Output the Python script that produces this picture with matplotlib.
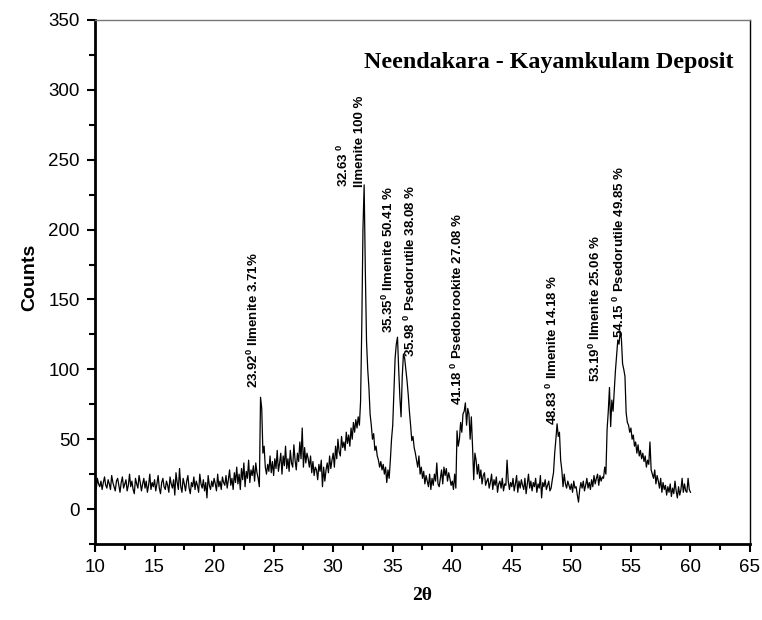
import numpy as np
import matplotlib
matplotlib.use("Agg")
import matplotlib.pyplot as plt

plt.rcParams['mathtext.fontset'] = 'custom'
plt.rcParams['mathtext.rm'] = 'Liberation Sans:bold'
plt.rcParams['mathtext.bf'] = 'Liberation Sans:bold'
plt.rcParams['mathtext.it'] = 'Liberation Sans:bold'

# 2-theta sampling: 10.0 .. 60.0 in steps of 0.1
two_theta_start = 10.0
two_theta_stop = 60.0
counts = [
    30, 14, 22, 18, 16, 20, 14, 19, 23, 17,
    15, 21, 18, 14, 24, 19, 16, 13, 20, 22,
    17, 12, 19, 23, 15, 18, 21, 13, 17, 25,
    16, 20, 14, 11, 22, 18, 15, 24, 19, 13,
    18, 22, 15, 20, 12, 17, 25, 14, 19, 16,
    21, 13, 18, 24, 15, 11, 19, 22, 16, 14,
    20, 17, 12, 23, 18, 15, 21, 10, 26, 19,
    14, 29, 16, 12, 22, 18, 13, 20, 24, 15,
    11, 19, 16, 23, 14, 20, 17, 12, 25, 18,
    15, 21, 13, 19, 8, 24, 17, 14, 20, 16,
    22, 18, 13, 25, 16, 20, 14, 23, 19, 17,
    24, 15, 21, 28, 17, 22, 14, 26, 19, 30,
    18, 25, 14, 29, 21, 33, 16, 27, 22, 35,
    19, 28, 24, 31, 20, 33, 26, 22, 16, 80,
    72, 40, 45, 30, 25, 32, 27, 38, 26, 34,
    24, 36, 29, 42, 27, 33, 40, 25, 38, 31,
    45, 29, 36, 27, 42, 33, 30, 46, 35, 28,
    40, 34, 48, 36, 58, 30, 44, 33, 40, 36,
    30, 38, 26, 34, 24, 30, 28, 21, 32, 27,
    35, 16, 30, 20, 28, 33, 26, 38, 29, 35,
    40, 30, 45, 36, 50, 41, 38, 52, 44, 48,
    42, 55, 47, 53, 45, 58, 50, 62, 55, 64,
    58, 66, 60, 77, 130, 200, 232, 170, 120, 100,
    87, 68, 60, 50, 54, 42, 45, 38, 35, 30,
    34, 28, 32, 25, 30, 19, 28, 22, 35, 50,
    60, 85, 108, 118, 123, 100, 80, 66, 95, 111,
    108, 100, 92, 82, 70, 60, 49, 52, 44, 40,
    35, 30, 38, 25, 30, 22, 27, 18, 24, 20,
    16, 25, 14, 22, 17, 25, 20, 33, 18, 16,
    22, 28, 18, 30, 24, 29, 20, 26, 22, 17,
    20, 14, 25, 15, 56, 45, 50, 62, 55, 68,
    70, 76, 60, 72, 68, 50, 66, 45, 21, 40,
    35, 25, 32, 22, 28, 18, 24, 26, 17, 20,
    22, 15, 19, 25, 14, 21, 17, 23, 12, 18,
    20, 15, 22, 13, 18, 17, 35, 20, 14, 19,
    16, 22, 13, 18, 24, 12, 20, 15, 21, 17,
    14, 22, 11, 18, 25, 15, 20, 13, 19, 16,
    22, 12, 18, 15, 24, 8, 19, 16, 21, 14,
    17, 20, 13, 15, 21, 26, 40, 50, 61, 52,
    55, 35, 28, 16, 25, 18, 15, 20, 17, 14,
    18, 12, 20, 15, 16, 10, 5, 14, 19, 15,
    20, 13, 17, 22, 15, 19, 14, 21, 16, 24,
    18, 22, 25, 17, 24, 20, 23, 22, 30, 25,
    57, 70, 87, 59, 78, 70, 85, 99, 110, 121,
    118, 127, 122, 104, 100, 95, 69, 62, 60, 55,
    58, 50, 53, 45, 48, 40, 46, 38, 42, 36,
    40, 34, 38, 30, 35, 32, 48, 28, 25, 22,
    28, 18, 24, 20, 15, 22, 12, 19, 14, 17,
    10, 16, 12, 18, 9, 15, 11, 20, 13, 8,
    16, 10, 14, 22, 12, 18, 13, 12, 22, 14,
    12,
]
two_theta = np.linspace(two_theta_start, two_theta_stop, len(counts))

# peak annotations: text, anchor x, anchor y (bottom of rotated text)
peak_labels = [
    r"23.92$^{0}$ Ilmenite 3.71%",
    "32.63 $^{0}$\nIlmenite 100 %",
    r"35.35$^{0}$ Ilmenite 50.41 %",
    r"35.98 $^{0}$ Psedorutile 38.08 %",
    r"41.18 $^{0}$ Psedobrookite 27.08 %",
    r"48.83 $^{0}$ Ilmenite 14.18 %",
    r"53.19$^{0}$ Ilmenite 25.06 %",
    r"54.15 $^{0}$ Psedorutile 49.85 %",
]
peak_label_x = [23.28, 31.51, 34.62, 36.47, 40.42, 48.40, 52.02, 54.03]
peak_label_y = [86.6, 230.5, 126.0, 108.8, 74.4, 60.0, 91.0, 122.4]

title_text = "Neendakara - Kayamkulam Deposit"
x_label = "2θ"
y_label = "Counts"
x_ticks = [10, 15, 20, 25, 30, 35, 40, 45, 50, 55, 60, 65]
y_ticks = [0, 50, 100, 150, 200, 250, 300, 350]

W, H = 762, 620
fig = plt.figure(figsize=(W / 100, H / 100), dpi=100)
ax = fig.add_axes([95 / W, 1 - 544 / H, (750 - 95) / W, (544 - 20) / H])

ax.plot(two_theta, counts, color='black', lw=0.9)

ax.set_xlim(10, 65)
ax.set_ylim(-25, 350)
ax.set_xticks(x_ticks)
ax.set_yticks(y_ticks)
ax.set_xticks(np.array(x_ticks[:-1]) + 2.5, minor=True)
ax.set_yticks([-25] + list(np.array(y_ticks[:-1]) + 25), minor=True)

for lab in ax.get_xticklabels() + ax.get_yticklabels():
    lab.set_fontfamily('Liberation Sans')
    lab.set_fontsize(13.5)

ax.tick_params(which='major', direction='out', length=6, width=1.5, pad=5)
ax.tick_params(which='minor', direction='out', length=4, width=1.5)
ax.tick_params(top=False, right=False, which='both')

ax.spines['left'].set_linewidth(2)
ax.spines['bottom'].set_linewidth(2)
ax.spines['right'].set_linewidth(1)
ax.spines['top'].set_linewidth(1)
ax.spines['top'].set_color('#777777')

for txt, px, py in zip(peak_labels, peak_label_x, peak_label_y):
    ax.text(px, py, txt, rotation=90, ha='center', va='bottom',
            fontfamily='Liberation Sans', fontweight='bold', fontsize=9.5,
            multialignment='left', linespacing=1.3)

ax.text(48.1, 315.7, title_text, ha='center', va='baseline',
        fontfamily='Liberation Serif', fontweight='bold', fontsize=17.3)

fig.text(422.5 / W, 1 - 595 / H, x_label, ha='center', va='center',
         fontfamily='Liberation Serif', fontweight='bold', fontsize=14)
fig.text(30 / W, 1 - 277 / H, y_label, ha='center', va='center', rotation=90,
         fontfamily='Liberation Sans', fontweight='bold', fontsize=14)

fig.savefig('out.png', dpi=100)
